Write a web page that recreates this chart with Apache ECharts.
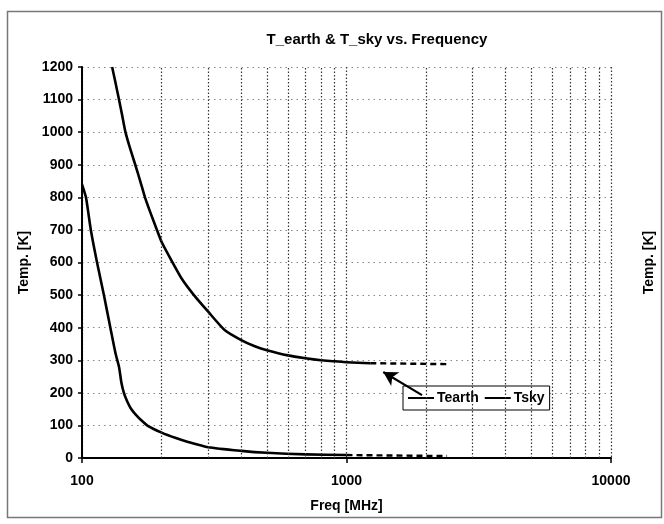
<!DOCTYPE html>
<html>
<head>
<meta charset="utf-8">
<script src="https://cdn.jsdelivr.net/npm/echarts@6/dist/echarts.min.js"></script>
<style>
html,body{margin:0;padding:0;background:#fff;}
#c{width:664px;height:524px;}
</style>
</head>
<body>
<div id="c"></div>
<script>
// ---- data ----
var titleText = 'T_earth & T_sky vs. Frequency';
var xName = 'Freq [MHz]';
var yName = 'Temp. [K]';
var yTicks = [0, 100, 200, 300, 400, 500, 600, 700, 800, 900, 1000, 1100, 1200];
var xTicks = [100, 1000, 10000];
var minorGridFreqs = [200, 300, 400, 500, 600, 700, 800, 900, 2000, 3000, 4000, 5000, 6000, 7000, 8000, 9000];

// upper curve (solid part) [freq MHz, temp K]
var tearthSolid = [[130,1200],[134,1150],[138,1100],[142,1050],[146,1000],[152,950],[159,900],[166,850],[173,800],[182,750],[192,700],[200,663],[218,606],[238,551],[265,500],[300,449],[346,393],[400,362],[450,343],[500,331],[600,315],[700,306],[800,300],[900,297],[1000,294],[1230,291]];
var tearthDashed = [[1230,291],[2400,288]];
// lower curve
var tskySolid = [[100,840],[103.5,800],[108,700],[114,600],[121,500],[128,400],[134,320],[138,280],[141,230],[144,200],[148,175],[153,152],[159,135],[168,115],[178,98],[200,78],[225,62],[250,50],[300,33],[400,22],[500,16],[700,11],[1000,9]];
var tskyDashed = [[1000,9],[2400,6]];
// arrow from legend to the upper curve (data coords)
var arrowFrom = [1930, 193];
var arrowTo = [1377, 264];

var chart = echarts.init(document.getElementById('c'), null, {renderer:'canvas'});
var FONT = 'Liberation Sans';
var plain = function (v) { return String(v); };
var option = {
  animation: false,
  backgroundColor: '#fff',
  title: {
    text: titleText, left: 372, top: 27, textAlign: 'center',
    textStyle: {fontFamily: FONT, fontWeight: 'bold', fontSize: 15, color: '#000'}
  },
  graphic: [{
    type: 'rect', left: 5, top: 9, shape: {width: 654, height: 506},
    style: {fill: 'none', stroke: '#777', lineWidth: 1.5}, silent: true
  }],
  legend: {
    data: ['Tearth', 'Tsky'],
    left: 403, top: 386,
    orient: 'horizontal',
    icon: 'rect', itemWidth: 26, itemHeight: 2, itemGap: 6,
    padding: [5, 5, 5, 5],
    borderColor: '#000', borderWidth: 1, backgroundColor: '#fff',
    textStyle: {fontFamily: FONT, fontWeight: 'bold', fontSize: 14, color: '#000', padding: [0,0,0,-2]}
  },
  grid: {left: 82, right: 52, top: 67, bottom: 66, containLabel: false},
  xAxis: {
    type: 'log', logBase: 10, min: xTicks[0], max: xTicks[xTicks.length-1],
    name: xName, nameLocation: 'middle', nameGap: 41,
    nameTextStyle: {fontFamily: FONT, fontWeight: 'bold', fontSize: 14, color: '#000'},
    axisLine: {show: true, lineStyle: {color: '#000', width: 2}},
    axisTick: {show: true, length: 5, lineStyle: {color: '#000', width: 1.5}},
    axisLabel: {margin: 16, fontFamily: FONT, fontWeight: 'bold', fontSize: 14, color: '#000', formatter: plain},
    splitLine: {show: true, lineStyle: {color: '#333', type: [1.5, 2], width: 1.2}},
    minorTick: {show: false}, minorSplitLine: {show: false}
  },
  yAxis: [{
    type: 'value', min: yTicks[0], max: yTicks[yTicks.length-1], interval: 100,
    name: yName, nameLocation: 'middle', nameGap: 50, nameRotate: 90,
    nameTextStyle: {fontFamily: FONT, fontWeight: 'bold', fontSize: 14, color: '#000'},
    axisLine: {show: true, lineStyle: {color: '#000', width: 2}},
    axisTick: {show: true, length: 4, lineStyle: {color: '#000', width: 1.5}},
    axisLabel: {margin: 9, fontFamily: FONT, fontWeight: 'bold', fontSize: 14, color: '#000', formatter: plain},
    splitLine: {show: true, lineStyle: {color: '#888', type: [1.5, 4], width: 1.2}}
  }, {
    type: 'value', min: yTicks[0], max: yTicks[yTicks.length-1], interval: 100,
    position: 'right',
    name: yName, nameLocation: 'middle', nameGap: 31, nameRotate: 90,
    nameTextStyle: {fontFamily: FONT, fontWeight: 'bold', fontSize: 14, color: '#000'},
    axisLine: {show: false}, axisTick: {show: false}, axisLabel: {show: false},
    splitLine: {show: false}
  }],
  series: [
    {
      name: 'gridlines', type: 'line', data: [], silent: true,
      markLine: {
        silent: true, symbol: ['none', 'none'], label: {show: false},
        lineStyle: {color: '#333', type: [1.5, 2], width: 1.2},
        data: minorGridFreqs.map(function (f) { return {xAxis: f}; })
      }
    },
    {
      name: 'Tearth', type: 'line', data: tearthSolid, showSymbol: false, smooth: 0.2,
      lineStyle: {color: '#000', width: 2.6, join: 'round'}, itemStyle: {color: '#000'},
      markLine: {
        silent: true, symbol: ['none', 'arrow'], symbolSize: [12, 14], label: {show: false},
        lineStyle: {color: '#000', type: 'solid', width: 2.2},
        data: [[{coord: arrowFrom}, {coord: arrowTo}]]
      }
    },
    {
      name: 'Tearth_ext', type: 'line', data: tearthDashed, showSymbol: false,
      lineStyle: {color: '#000', width: 2.4, type: [6, 4]}
    },
    {
      name: 'Tsky', type: 'line', data: tskySolid, showSymbol: false, smooth: 0.2,
      lineStyle: {color: '#000', width: 2.6, join: 'round'}, itemStyle: {color: '#000'}
    },
    {
      name: 'Tsky_ext', type: 'line', data: tskyDashed, showSymbol: false,
      lineStyle: {color: '#000', width: 2.4, type: [6, 4]}
    }
  ]
};
chart.setOption(option);
</script>
</body>
</html>
